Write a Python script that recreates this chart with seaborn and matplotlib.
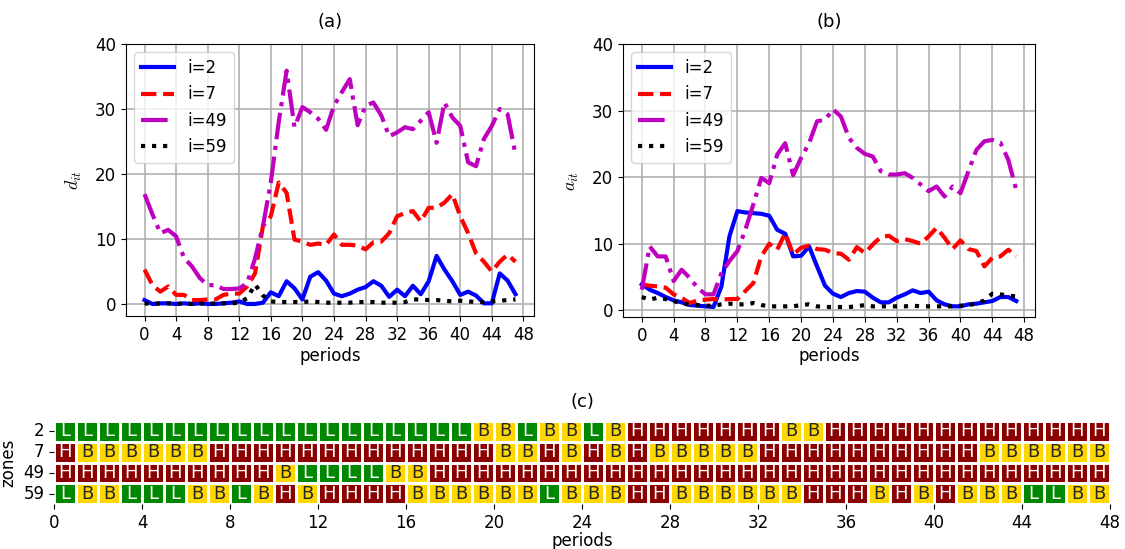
import numpy as np
import pandas as pd
import matplotlib
matplotlib.use("Agg")
import matplotlib.pyplot as plt
from matplotlib.colors import ListedColormap
import seaborn as sns

# periods 0..47
periods = list(range(48))

# (a) d_it
d_2 = [0.6, 0.0, 0.1, 0.1, 0.0, 0.1, 0.0, 0.1, 0.0, 0.0,
       0.1, 0.2, 0.4, 0.0, 0.0, 0.2, 1.8, 1.2, 3.5, 2.4,
       0.7, 4.2, 4.9, 3.6, 1.6, 1.2, 1.6, 2.2, 2.6, 3.5,
       2.8, 1.1, 2.2, 1.2, 2.8, 1.5, 3.5, 7.4, 5.3, 3.5,
       1.4, 1.9, 1.3, 0.1, 0.1, 4.7, 3.6, 1.5]
d_7 = [5.3, 2.9, 1.9, 2.7, 1.4, 1.4, 0.6, 0.6, 0.7, 0.7,
       1.4, 1.6, 1.6, 2.7, 4.7, 12.0, 13.5, 18.7, 17.1, 9.9,
       9.6, 9.1, 9.3, 9.1, 10.7, 9.1, 9.1, 9.0, 8.4, 9.5,
       9.6, 10.9, 13.5, 14.0, 14.3, 12.7, 14.8, 14.8, 15.6, 16.9,
       13.5, 10.9, 7.8, 6.5, 5.0, 6.5, 7.6, 6.5]
d_49 = [16.9, 13.8, 10.9, 11.4, 10.4, 7.1, 5.8, 4.0, 2.9, 2.9,
        2.3, 2.3, 2.4, 3.2, 7.0, 12.0, 18.7, 28.0, 35.9, 27.2,
        30.3, 29.5, 28.5, 26.8, 30.5, 32.6, 34.6, 27.5, 30.5, 31.0,
        29.0, 25.8, 26.4, 27.2, 26.9, 28.2, 29.5, 24.8, 31.0, 28.7,
        27.4, 21.8, 21.2, 25.4, 27.4, 30.0, 29.2, 23.0]
d_59 = [0.1, 0.0, 0.1, 0.1, 0.0, 0.1, 0.0, 0.1, 0.0, 0.1,
        0.1, 0.1, 0.2, 0.9, 3.0, 1.3, 0.4, 0.3, 0.3, 0.3,
        0.3, 0.4, 0.3, 0.2, 0.2, 0.2, 0.2, 0.3, 0.3, 0.3,
        0.2, 0.2, 0.2, 0.3, 0.7, 0.7, 0.6, 0.6, 0.5, 0.4,
        0.5, 0.4, 0.3, 0.3, 0.4, 0.5, 0.6, 0.7]

# (b) a_it
a_2 = [3.9, 3.1, 2.6, 2.0, 1.5, 1.2, 0.8, 0.7, 0.6, 0.5,
       3.6, 11.1, 14.9, 14.7, 14.6, 14.5, 14.2, 12.1, 11.5, 8.1,
       8.2, 9.6, 6.6, 3.7, 2.5, 2.0, 2.6, 2.9, 2.8, 1.9,
       1.2, 1.2, 1.9, 2.4, 3.0, 2.6, 2.8, 1.5, 0.9, 0.6,
       0.6, 0.9, 1.0, 1.2, 1.4, 2.0, 2.0, 1.4]
a_7 = [3.9, 3.7, 3.6, 3.4, 2.4, 1.9, 1.1, 1.5, 1.6, 1.7,
       1.6, 1.7, 1.7, 2.9, 4.1, 8.1, 10.0, 9.1, 11.6, 8.4,
       9.4, 9.7, 9.2, 9.1, 8.6, 8.5, 7.6, 9.5, 8.6, 9.9,
       11.0, 11.2, 10.4, 10.7, 10.4, 10.0, 11.1, 12.4, 10.9, 9.2,
       10.5, 9.2, 8.9, 6.6, 7.9, 8.1, 9.1, 8.1]
a_49 = [3.1, 9.6, 8.1, 8.1, 4.4, 6.1, 4.9, 3.4, 2.4, 2.4,
        5.6, 7.4, 8.9, 12.1, 15.9, 19.9, 19.1, 23.4, 25.1, 20.3,
        22.9, 25.1, 28.4, 28.6, 30.2, 29.1, 25.9, 24.4, 23.5, 23.1,
        20.9, 20.4, 20.4, 20.6, 19.9, 18.9, 17.9, 18.6, 17.1, 18.6,
        17.6, 20.9, 24.1, 25.4, 25.6, 25.2, 22.6, 18.1]
a_59 = [2.0, 1.6, 1.9, 1.7, 1.4, 1.0, 0.9, 0.8, 0.7, 0.7,
        0.9, 1.0, 0.9, 0.9, 1.1, 0.8, 0.6, 0.6, 0.6, 0.6,
        0.8, 0.9, 0.6, 0.5, 0.5, 0.5, 0.5, 0.6, 0.8, 0.6,
        0.6, 0.6, 0.6, 0.6, 0.7, 0.6, 0.6, 0.6, 0.6, 0.6,
        0.7, 0.8, 1.0, 1.5, 2.5, 2.4, 2.2, 2.1]

# (c) regimes per zone
zones = ["2", "7", "49", "59"]
reg_2 = list("LLLLLLLLLLLLLLLLLLLBBLBBLBHHHHHHHBBHHHHHHHHHHHHH")
reg_7 = list("HBBBBBBHHHHHHHHHHHHHBBHBHBHBBBBBHHHHHHHHHHBBBBBB")
reg_49 = list("HHHHHHHHHHBLLLLBBHHHHHHHHHHHHHHHHHHHHHHHHHHHHHHH")
reg_59 = list("LBBLLLBBLBHBHHHHBBBBBBLBBBHHBBBBBBHHHBHBHBBBLLBB")
regime_codes = {"L": 0, "B": 1, "H": 2}

labels = ["i=2", "i=7", "i=49", "i=59"]
colors = ["b", "r", "m", "k"]
styles = ["-", "--", "-.", ":"]

plt.rcParams["font.size"] = 12
plt.rcParams["mathtext.fontset"] = "cm"

fig = plt.figure(figsize=(11.25, 5.49), dpi=100)
ax1 = fig.add_axes([0.112, 0.4244, 0.3627, 0.4954])
ax2 = fig.add_axes([0.5538, 0.4226, 0.3662, 0.4972])
ax3 = fig.add_axes([0.048, 0.082, 0.9387, 0.151])

for ax, series, ylab, ybot, title in [
        (ax1, [d_2, d_7, d_49, d_59], "$d_{it}$", -1.85, "(a)"),
        (ax2, [a_2, a_7, a_49, a_59], "$a_{it}$", -1.0, "(b)")]:
    for y, lab, c, ls in zip(series, labels, colors, styles):
        sns.lineplot(x=periods, y=y, ax=ax, color=c, linestyle=ls,
                     linewidth=3, label=lab)
    ax.set_ylim(ybot, 40)
    ax.set_xticks(range(0, 49, 4))
    ax.set_yticks([0, 10, 20, 30, 40])
    ax.grid(True, color="#b0b0b0", linewidth=1.2)
    ax.set_xlabel("periods", labelpad=2)
    ax.set_ylabel(ylab, labelpad=8, fontsize=13)
    ax.set_title(title, pad=12, fontsize=13)
    ax.legend(loc="upper left")

codes = np.array([[regime_codes[r] for r in row]
                  for row in [reg_2, reg_7, reg_49, reg_59]])
annots = np.array([reg_2, reg_7, reg_49, reg_59])
cmap = ListedColormap(["#008800", "#ffd700", "#8b0000"])
sns.heatmap(codes, annot=annots, fmt="", cmap=cmap, vmin=-0.5, vmax=2.5,
            cbar=False, linewidths=0.8, linecolor="white", ax=ax3,
            annot_kws={"fontsize": 13})
ax3.set_xticks(range(0, 49, 4))
ax3.set_xticklabels([str(v) for v in range(0, 49, 4)], rotation=0)
ax3.set_yticks(np.arange(4) + 0.5)
ax3.set_yticklabels(zones, rotation=0)
ax3.tick_params(length=3.5)
ax3.set_xlabel("periods", labelpad=0)
ax3.set_ylabel("zones")
ax3.set_title("(c)", pad=10, fontsize=13)

fig.savefig("out.png", dpi=100)
